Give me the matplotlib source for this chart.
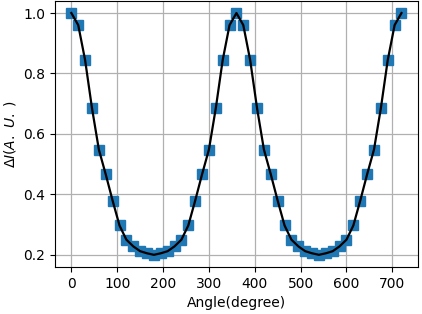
import matplotlib
matplotlib.use("Agg")
import matplotlib.pyplot as plt
import numpy as np

# angle in degrees, measured every 15 degrees
angle = np.arange(0, 721, 15)

# values (one half period 0..180, then mirrored by eye)
half_period = [1.0, 0.96, 0.844, 0.685, 0.548, 0.466, 0.379, 0.297,
               0.25, 0.228, 0.212, 0.205, 0.2]
delta_i = (half_period + half_period[-2::-1] + half_period[1:]
           + half_period[-2::-1])

fig = plt.figure(figsize=(4.22, 3.14), dpi=100)
ax = fig.add_axes([0.130, 0.150, 0.8605, 0.847])

ax.plot(angle, delta_i, "s", color="tab:blue", markersize=7)
ax.plot(angle, delta_i, "-", color="black", linewidth=1.6)

ax.set_xlabel("Angle(degree)")
ax.set_ylabel(r"$\Delta I(A.\ U.\ )$")
ax.set_xticks([0, 100, 200, 300, 400, 500, 600, 700])
ax.set_yticks([0.2, 0.4, 0.6, 0.8, 1.0])
ax.grid(True, color="#b0b0b0", linewidth=0.9)

fig.savefig("out.png", dpi=100)
